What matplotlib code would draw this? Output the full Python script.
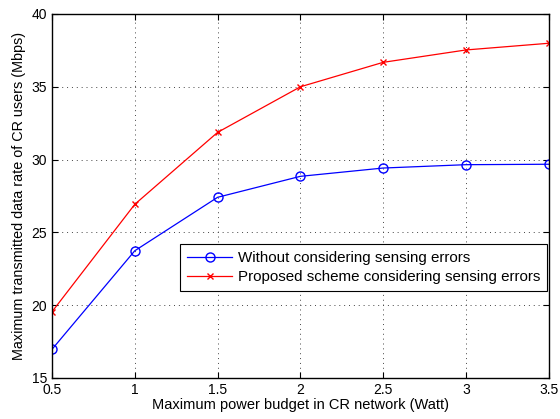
import matplotlib
matplotlib.use('Agg')
import matplotlib.pyplot as plt

# power budget (Watt)
power = [0.5, 1.0, 1.5, 2.0, 2.5, 3.0, 3.5]
# data rates (Mbps)
rate_no_err = [16.97, 23.74, 27.41, 28.85, 29.42, 29.65, 29.68]
rate_proposed = [19.55, 26.93, 31.87, 35.0, 36.68, 37.53, 37.99]

plt.rcParams['font.family'] = ['Liberation Sans', 'DejaVu Sans']

fig = plt.figure(figsize=(5.6, 4.19), dpi=100)
ax = fig.add_axes([0.0929, 0.0979, 0.887, 0.8687])

ax.plot(power, rate_no_err, color='blue', marker='o', markersize=6.5,
        markerfacecolor='none', linewidth=0.9, label='Without considering sensing errors')
ax.plot(power, rate_proposed, color='red', marker='x', markersize=5,
        linewidth=0.9, label='Proposed scheme considering sensing errors')

ax.set_xlim(0.5, 3.5)
ax.set_ylim(15, 40)
ax.set_xticks(power)
ax.set_xticklabels(['0.5', '1', '1.5', '2', '2.5', '3', '3.5'])
ax.set_yticks([15, 20, 25, 30, 35, 40])
ax.tick_params(direction='in', top=True, right=True, labelsize=10, length=4, width=0.8)
ax.grid(True, linestyle=(0, (1, 4)), color='#444444', linewidth=0.7)
for s in ax.spines.values():
    s.set_linewidth(1.0)

ax.set_xlabel('Maximum power budget in CR network (Watt)', fontsize=10.5, labelpad=1)
ax.set_ylabel('Maximum transmitted data rate of CR users (Mbps)', fontsize=10.4, labelpad=4)

leg = ax.legend(loc='lower right', bbox_to_anchor=(0.996, 0.239), fontsize=10.9,
                fancybox=False, framealpha=1, edgecolor='black', borderpad=0.45,
                handlelength=3.0, handletextpad=0.35, labelspacing=0.33,
                borderaxespad=0)
leg.get_frame().set_linewidth(0.8)

plt.savefig('out.png', dpi=100)
